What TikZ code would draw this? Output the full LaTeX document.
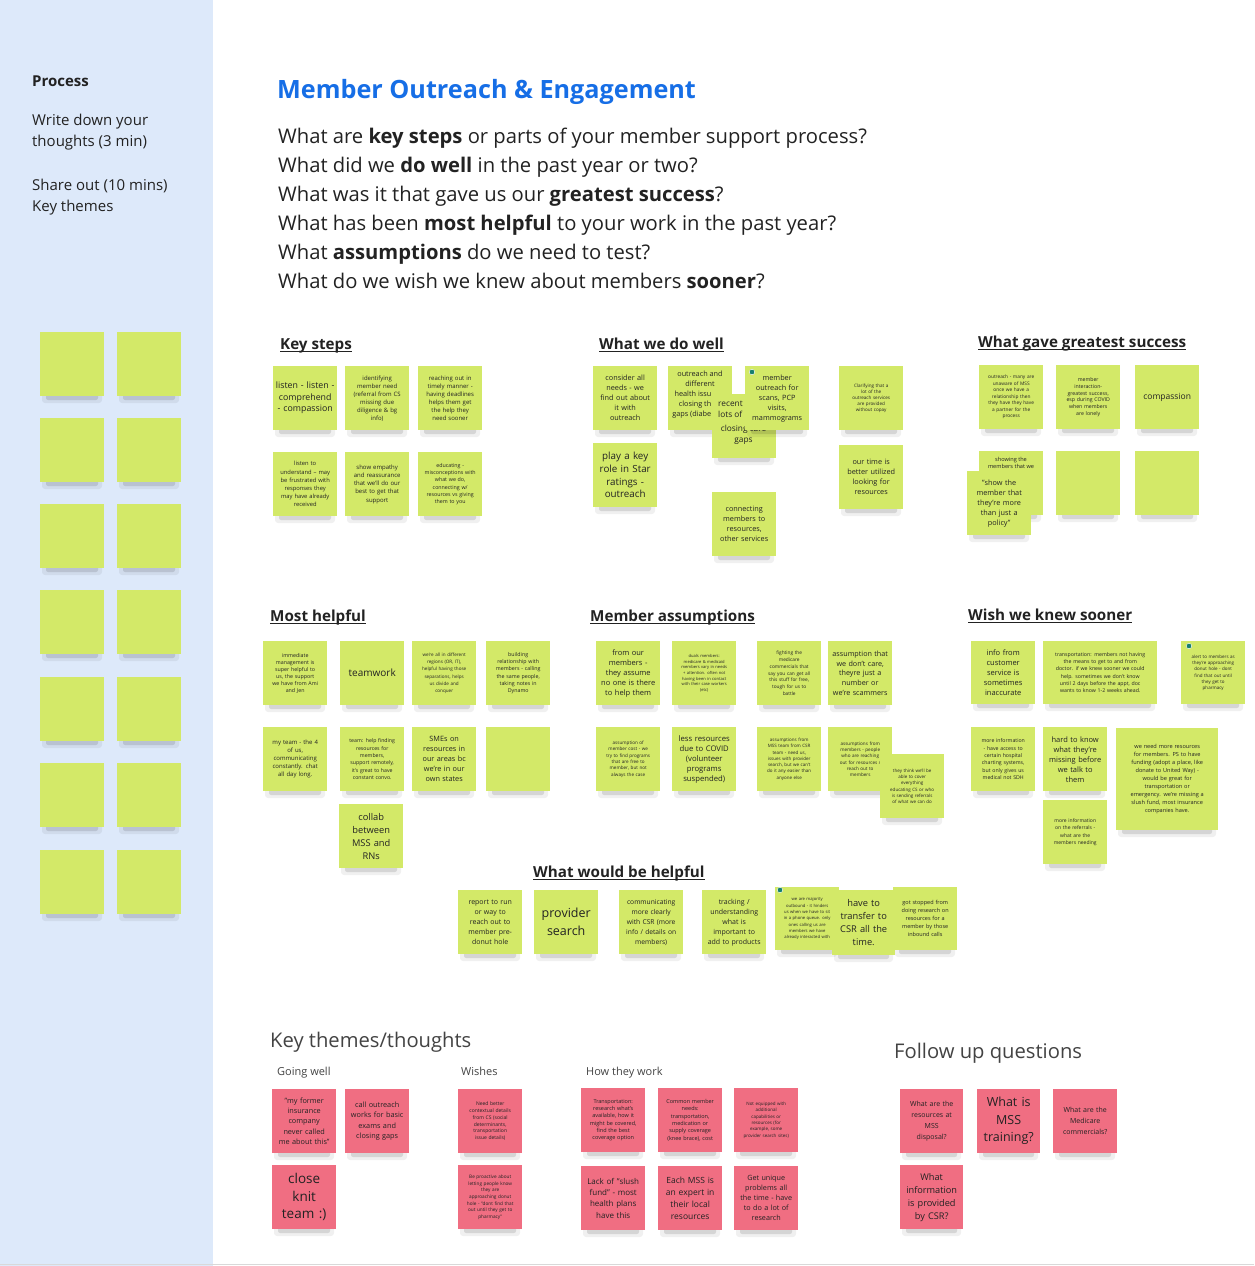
\documentclass[tikz,border=0pt]{standalone}
\usepackage{fontspec}
\setmainfont{Open Sans}
\definecolor{panelblue}{RGB}{221,233,250}
\definecolor{stgreen}{RGB}{211,233,104}
\definecolor{stpink}{RGB}{240,110,130}
\definecolor{titleblue}{RGB}{22,110,230}
\definecolor{ink}{RGB}{34,34,34}
\definecolor{tealdot}{RGB}{24,128,110}
\newcommand\ultitle[1]{\setbox0=\hbox{#1}\rlap{\rule[-3pt]{\wd0}{1.5pt}}\box0}
\newcommand\stk[9]{%
  \pgfmathsetmacro\stkw{#4-5}%
  \fill[black,opacity=0.06,rounded corners=3pt] ({#2+2},{#3+#5-8}) rectangle ({#2+#4-2},{#3+#5+7});
  \fill[black,opacity=0.11,rounded corners=2pt] ({#2+6},{#3+#5-4}) rectangle ({#2+#4-6},{#3+#5+4});
  \node[stickybox,fill=#6,minimum width=#4pt,minimum height=#5pt,text width=\stkw pt,font={\fontsize{#7}{#8}\selectfont}] (#1) at (#2,#3) {#9};
}
\tikzset{
  stickybox/.style={anchor=north west, inner sep=2pt, align=center, text=ink},
  plain/.style={anchor=base west, inner sep=0pt, text=ink},
  sectitle/.style={plain, font={\fontsize{15.2}{18}\selectfont\bfseries}},
  bigtitle/.style={plain, text=ink!85, font={\fontsize{20.2}{24}\selectfont}},
  subtitle/.style={plain, text=ink!85, font={\fontsize{11}{13}\selectfont}},
  question/.style={plain, font={\fontsize{20.2}{24}\selectfont}},
  paneltext/.style={plain, font={\fontsize{15}{18}\selectfont}},
  dotmark/.style={circle, fill=tealdot, draw=white, line width=0.4pt, minimum size=5.5pt, inner sep=0pt}
}
\begin{document}
\begin{tikzpicture}[x=1pt,y=-1pt]
\useasboundingbox (0,0) rectangle (1254,1266);
\fill[white] (0,0) rectangle (1254,1266);
\fill[panelblue] (0,0) rectangle (213,1266);
\draw[black!15] (0,1264.5) -- (1254,1264.5);

% left panel
\node[paneltext,font={\fontsize{15}{18}\selectfont\bfseries}] (proc) at (32,86) {Process};
\node[paneltext] (pw1) at (32,125) {Write down your};
\node[paneltext] (pw2) at (32,146) {thoughts (3 min)};
\node[paneltext] (ps1) at (32,190) {Share out (10 mins)};
\node[paneltext] (ps2) at (32,211) {Key themes};

\foreach \r [count=\i] in {332,418,504,590,677,763,850}{
  \stk{la\i}{40}{\r}{64}{64}{stgreen}{6}{8}{}
  \stk{lb\i}{117}{\r}{64}{64}{stgreen}{6}{8}{}
}

% header
\node[plain,text=titleblue,font={\fontsize{25.2}{30}\selectfont\bfseries}] (title) at (277,98) {Member Outreach \& Engagement};
\node[question] (q1) at (278,143) {What are \textbf{key steps} or parts of your member support process?};
\node[question] (q2) at (278,172) {What did we \textbf{do well} in the past year or two?};
\node[question] (q3) at (278,201) {What was it that gave us our \textbf{greatest success}?};
\node[question] (q4) at (278,230) {What has been \textbf{most helpful} to your work in the past year?};
\node[question] (q5) at (278,259) {What \textbf{assumptions} do we need to test?};
\node[question] (q6) at (278,288) {What do we wish we knew about members \textbf{sooner}?};

% section titles
\node[sectitle] (t1) at (280,349) {\ultitle{Key steps}};
\node[sectitle] (t2) at (599,349) {\ultitle{What we do well}};
\node[sectitle] (t3) at (978,347) {\ultitle{What gave greatest success}};
\node[sectitle] (t4) at (270,621) {\ultitle{Most helpful}};
\node[sectitle] (t5) at (590,621) {\ultitle{Member assumptions}};
\node[sectitle] (t6) at (968,620) {\ultitle{Wish we knew sooner}};
\node[sectitle] (t7) at (533,877) {\ultitle{What would be helpful}};

% Key steps
\stk{ks1}{273}{366}{64}{64}{stgreen}{8.8}{11.5}{listen - listen -\\ comprehend\\ - compassion}
\stk{ks2}{345}{366}{64}{64}{stgreen}{6}{8}{identifying\\ member need\\ (referral from CS\\ missing due\\ diligence \& bg\\ info)}
\stk{ks3}{418}{366}{64}{64}{stgreen}{6}{8}{reaching out in\\ timely manner -\\ having deadlines\\ helps them get\\ the help they\\ need sooner}
\stk{ks4}{273}{452}{64}{64}{stgreen}{5.8}{8.2}{listen to\\ understand -- may\\ be frustrated with\\ responses they\\ may have already\\ received}
\stk{ks5}{345}{452}{64}{64}{stgreen}{6}{8.2}{show empathy\\ and reassurance\\ that we'll do our\\ best to get that\\ support}
\stk{ks6}{418}{452}{64}{64}{stgreen}{5.3}{7.3}{educating -\\ misconceptions with\\ what we do,\\ connecting w/\\ resources vs giving\\ them to you}

% What we do well
\stk{wa}{593}{366}{64}{64}{stgreen}{7.3}{10}{consider all\\ needs - we\\ find out about\\ it with\\ outreach}
\stk{wb}{668}{366}{64}{64}{stgreen}{7.3}{10}{}
\node[anchor=north,inner sep=0pt,align=center,text=ink,font={\fontsize{7.3}{10}\selectfont}] (wbt1) at (700,371) {outreach and\\ different};
\node[anchor=north east,inner sep=0pt,align=right,text=ink,font={\fontsize{7.3}{10}\selectfont}] (wbt2) at (711.5,391) {health issu\\ closing th\\ gaps (diabe};
\stk{wc}{712}{394}{64}{64}{stgreen}{8.3}{11}{}
\node[anchor=north west,inner sep=0pt,align=left,text=ink,font={\fontsize{8.3}{11}\selectfont}] (wct1) at (718,401) {recent\\ lots of};
\node[anchor=north,inner sep=0pt,align=center,text=ink,font={\fontsize{8.3}{11}\selectfont}] (wct2) at (743.5,425) {closing care\\ gaps};
\stk{wd}{745}{366}{64}{64}{stgreen}{7.3}{10}{member\\ outreach for\\ scans, PCP\\ visits,\\ mammograms}
\node[dotmark] (wddot) at (752,372) {};
\stk{we}{593}{443}{64}{64}{stgreen}{9.8}{12.7}{play a key\\ role in Star\\ ratings -\\ outreach}
\stk{wf}{712}{492}{64}{64}{stgreen}{7.3}{10}{connecting\\ members to\\ resources,\\ other services}
\stk{wg}{839}{366}{64}{64}{stgreen}{4.6}{6}{Clarifying that a\\ lot of the\\ outreach services\\ are provided\\ without copay}
\stk{wh}{839}{445}{64}{64}{stgreen}{7.3}{10}{our time is\\ better utilized\\ looking for\\ resources}

% What gave greatest success
\stk{gs1}{979}{365}{64}{64}{stgreen}{4.8}{6.5}{outreach - many are\\ unaware of MSS\\ once we have a\\ relationship then\\ they have they have\\ a partner for the\\ process}
\stk{gs2}{1056}{365}{64}{64}{stgreen}{5.2}{6.7}{member\\ interaction-\\ greatest success,\\ esp during COVID\\ when members\\ are lonely}
\stk{gs3}{1135}{365}{64}{64}{stgreen}{8.5}{11}{compassion}
\stk{gs4}{979}{451}{64}{64}{stgreen}{5.6}{7.3}{}
\node[anchor=north,inner sep=0pt,align=center,text=ink,font={\fontsize{5.6}{7.5}\selectfont}] (gs4t) at (1011,457) {showing the\\ members that we};
\stk{gs6}{1056}{451}{64}{64}{stgreen}{6}{8}{}
\stk{gs7}{1135}{451}{64}{64}{stgreen}{6}{8}{}
\stk{gs5}{967}{471}{64}{64}{stgreen}{7.3}{10}{"show the\\ member that\\ they're more\\ than just a\\ policy"}

% Most helpful
\stk{mh1}{263}{641}{64}{64}{stgreen}{5.3}{7}{immediate\\ management is\\ super helpful to\\ us, the support\\ we have from Ami\\ and Jen}
\stk{mh2}{340}{641}{64}{64}{stgreen}{10}{13}{teamwork}
\stk{mh3}{412}{641}{64}{64}{stgreen}{4.6}{7.2}{we're all in different\\ regions (OR, IT),\\ helpful having those\\ separations, helps\\ us divide and\\ conquer}
\stk{mh4}{486}{641}{64}{64}{stgreen}{5.3}{7.3}{building\\ relationship with\\ members - calling\\ the same people,\\ taking notes in\\ Dynamo}
\stk{mh5}{263}{727}{64}{64}{stgreen}{6}{8}{my team - the 4\\ of us,\\ communicating\\ constantly. chat\\ all day long.}
\stk{mh6}{340}{727}{64}{64}{stgreen}{5.2}{7.3}{team: help finding\\ resources for\\ members,\\ support remotely,\\ it's great to have\\ constant convo.}
\stk{mh7}{412}{727}{64}{64}{stgreen}{7.3}{10}{SMEs on\\ resources in\\ our areas bc\\ we're in our\\ own states}
\stk{mh8}{486}{727}{64}{64}{stgreen}{6}{8}{}
\stk{mh9}{339}{804}{64}{64}{stgreen}{9.3}{13}{collab\\ between\\ MSS and\\ RNs}

% Member assumptions
\stk{ma1}{596}{641}{64}{64}{stgreen}{7.5}{10}{from our\\ members -\\ they assume\\ no one is there\\ to help them}
\stk{ma2}{672}{641}{64}{64}{stgreen}{4.1}{5.6}{duals members:\\ medicare \& medicaid\\ members vary in needs\\ + attention. often not\\ having been in contact\\ with their case workers\\ (etc)}
\stk{ma3}{757}{641}{64}{64}{stgreen}{4.8}{6.7}{fighting the\\ medicare\\ commercials that\\ say you can get all\\ this stuff for free,\\ tough for us to\\ battle}
\stk{ma4}{828}{641}{64}{64}{stgreen}{7.2}{9.7}{assumption that\\ we don't care,\\ theyre just a\\ number or\\ we're scammers}
\stk{ma5}{596}{727}{64}{64}{stgreen}{4.6}{6.3}{assumption of\\ member cost - we\\ try to find programs\\ that are free to\\ member, but not\\ always the case}
\stk{ma6}{672}{727}{64}{64}{stgreen}{7.7}{10}{less resources\\ due to COVID\\ (volunteer\\ programs\\ suspended)}
\stk{ma7}{757}{727}{64}{64}{stgreen}{4.5}{6.3}{assumptions from\\ MSS team from CSR\\ team - need us,\\ issues with provider\\ search, but we can't\\ do it any easier than\\ anyone else}
\stk{ma8}{828}{727}{64}{64}{stgreen}{4.6}{6.3}{assumptions from\\ members - people\\ who are reaching\\ out for resources /\\ reach out to\\ members}
\stk{ma9}{880}{754}{64}{64}{stgreen}{4.5}{6.3}{they think we'll be\\ able to cover\\ everything\\ educating CS or who\\ is sending referrals\\ of what we can do}

% Wish we knew sooner
\stk{w1}{971}{641}{64}{63}{stgreen}{7.5}{10}{info from\\ customer\\ service is\\ sometimes\\ inaccurate}
\stk{w2}{1043}{641}{114}{63}{stgreen}{5.2}{7.3}{transportation: members not having\\ the means to get to and from\\ doctor. if we knew sooner we could\\ help. sometimes we don't know\\ until 2 days before the appt, doc\\ wants to know 1-2 weeks ahead.}
\stk{w3}{1181}{641}{64}{63}{stgreen}{4.5}{6.3}{alert to members as\\ they're approaching\\ donut hole - dont\\ find that out until\\ they get to\\ pharmacy}
\node[dotmark] (w3dot) at (1189,646) {};
\stk{w4}{971}{727}{64}{64}{stgreen}{5.2}{7.3}{more information\\ - have access to\\ certain hospital\\ charting systems,\\ but only gives us\\ medical not SDH}
\stk{w5}{1043}{727}{64}{64}{stgreen}{7.5}{10}{hard to know\\ what they're\\ missing before\\ we talk to\\ them}
\stk{w7}{1043}{800}{64}{64}{stgreen}{5}{7.3}{more information\\ on the referrals -\\ what are the\\ members needing}
\stk{w6}{1116}{728}{102}{102}{stgreen}{5.6}{8}{we need more resources\\ for members. PS to have\\ funding (adopt a place, like\\ donate to United Way) -\\ would be great for\\ transportation or\\ emergency. we're missing a\\ slush fund, most insurance\\ companies have.}

% What would be helpful
\stk{h1}{458}{890}{64}{64}{stgreen}{7}{10}{report to run\\ or way to\\ reach out to\\ member pre-\\ donut hole}
\stk{h2}{534}{890}{64}{64}{stgreen}{12.5}{18}{provider\\ search}
\stk{h3}{619}{890}{64}{64}{stgreen}{6.7}{10}{communicating\\ more clearly\\ with CSR (more\\ info / details on\\ members)}
\stk{h4}{702}{890}{64}{64}{stgreen}{7}{10}{tracking /\\ understanding\\ what is\\ important to\\ add to products}
\stk{h5}{775}{887}{64}{63}{stgreen}{4.2}{6.3}{we are majority\\ outbound - it hinders\\ us when we have to sit\\ in a phone queue. only\\ ones calling us are\\ members we have\\ already interacted with}
\node[dotmark] (h5dot) at (780,890) {};
\stk{h6}{832}{890}{63}{65}{stgreen}{9.3}{13}{have to\\ transfer to\\ CSR all the\\ time.}
\stk{h7}{893}{887}{64}{63}{stgreen}{5.5}{8}{got stopped from\\ doing research on\\ resources for a\\ member by those\\ inbound calls}

% Key themes
\node[bigtitle] (kt) at (270,1047) {Key themes/thoughts};
\node[subtitle] (gw) at (277,1075) {Going well};
\node[subtitle] (wi) at (461,1075) {Wishes};
\node[subtitle] (hw) at (586,1075) {How they work};
\node[bigtitle] (fu) at (894,1058) {Follow up questions};

\stk{p1}{272}{1089}{64}{64}{stpink}{7.3}{10.3}{"my former\\ insurance\\ company\\ never called\\ me about this"}
\stk{p2}{345}{1089}{64}{64}{stpink}{7.3}{10.3}{call outreach\\ works for basic\\ exams and\\ closing gaps}
\stk{p3}{458}{1089}{64}{64}{stpink}{5}{6.7}{Need better\\ contextual details\\ from CS (social\\ determinants,\\ transportation\\ issue details)}
\stk{p4}{272}{1165}{64}{64}{stpink}{13.5}{17.5}{close\\ knit\\ team :)}
\stk{p5}{458}{1165}{64}{64}{stpink}{4.7}{6.7}{Be proactive about\\ letting people know\\ they are\\ approaching donut\\ hole - "dont find that\\ out until they get to\\ pharmacy"}
\stk{p6}{581}{1088}{64}{64}{stpink}{5.5}{7.3}{Transportation:\\ research what's\\ available, how it\\ might be covered,\\ find the best\\ coverage option}
\stk{p7}{658}{1088}{64}{64}{stpink}{5.5}{7.3}{Common member\\ needs:\\ transportation,\\ medication or\\ supply coverage\\ (knee brace), cost}
\stk{p8}{734}{1088}{64}{64}{stpink}{4.5}{6.3}{Not equipped with\\ additional\\ capabilities or\\ resources (for\\ example, some\\ provider search sites)}
\stk{p9}{581}{1166}{64}{64}{stpink}{8}{11.3}{Lack of "slush\\ fund" - most\\ health plans\\ have this}
\stk{p10}{658}{1166}{64}{64}{stpink}{8.5}{12}{Each MSS is\\ an expert in\\ their local\\ resources}
\stk{p11}{734}{1166}{64}{64}{stpink}{7.2}{10}{Get unique\\ problems all\\ the time - have\\ to do a lot of\\ research}

\stk{f1}{900}{1089}{63}{64}{stpink}{7}{11}{What are the\\ resources at\\ MSS\\ disposal?}
\stk{f2}{977}{1089}{63}{64}{stpink}{12.5}{17.5}{What is\\ MSS\\ training?}
\stk{f3}{1053}{1089}{64}{64}{stpink}{7}{11}{What are the\\ Medicare\\ commercials?}
\stk{f4}{900}{1165}{63}{64}{stpink}{9.2}{13}{What\\ information\\ is provided\\ by CSR?}
\end{tikzpicture}
\end{document}
